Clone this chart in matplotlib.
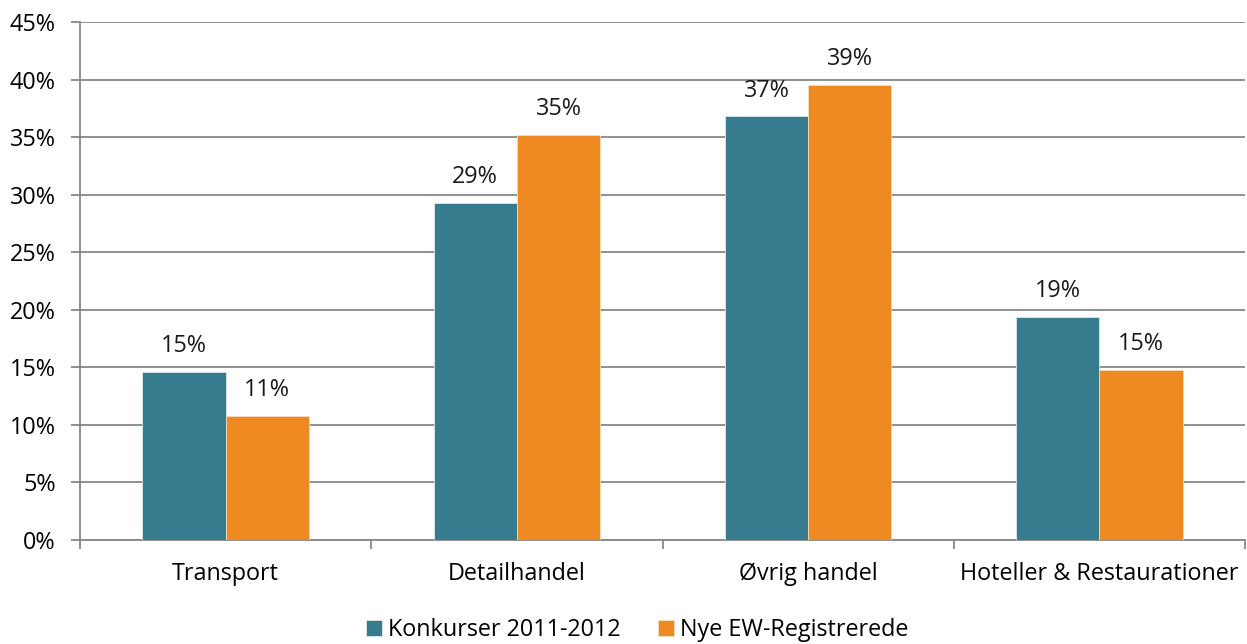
import numpy as np
import matplotlib
matplotlib.use("Agg")
from matplotlib import pyplot as plt
from matplotlib.ticker import FuncFormatter, FixedLocator

categories = ["Transport", "Detailhandel", "Øvrig handel", "Hoteller & Restaurationer"]
series_names = ["Konkurser 2011-2012", "Nye EW-Registrerede"]
konkurser = [14.6, 29.3, 36.8, 19.4]
nye_ew = [10.8, 35.2, 39.5, 14.8]
konkurser_labels = ["15%", "29%", "37%", "19%"]
nye_ew_labels = ["11%", "35%", "39%", "15%"]

teal = "#377B8E"
orange = "#EE8A21"
grey = "#878787"
fs = 16.8

plt.rcParams["font.family"] = ["Open Sans", "DejaVu Sans"]

fig = plt.figure(figsize=(12.47, 6.44), dpi=100)
ax = fig.add_axes([0.0642, 0.1615, 0.9342, 0.8043])

x = np.arange(len(categories))
w = 0.286
b1 = ax.bar(x - w / 2, konkurser, w, color=teal, edgecolor="#dfe8ea", linewidth=0.6,
            label=series_names[0], zorder=3)
b2 = ax.bar(x + w / 2, nye_ew, w, color=orange, edgecolor="#f6dcc0", linewidth=0.6,
            label=series_names[1], zorder=3)

ax.bar_label(b1, labels=konkurser_labels, padding=10, fontsize=fs, color="#1a1a1a")
ax.bar_label(b2, labels=nye_ew_labels, padding=10, fontsize=fs, color="#1a1a1a")

ax.set_xlim(-0.5, len(categories) - 0.5)
ax.set_ylim(0, 45)
ax.set_yticks(np.arange(0, 46, 5))
ax.yaxis.set_major_formatter(FuncFormatter(lambda v, p: f"{v:.0f}%"))
ax.yaxis.grid(True, color=grey, linewidth=1.3, zorder=0)

# category labels centred, ticks at the boundaries
ax.set_xticks(x)
ax.set_xticklabels(categories)
ax.tick_params(axis="x", which="major", length=0, pad=16, labelsize=fs)
ax.xaxis.set_minor_locator(FixedLocator(np.arange(-0.5, len(categories), 1.0)))
ax.tick_params(axis="x", which="minor", length=6.5, width=1.3, color=grey)
ax.tick_params(axis="y", length=6.5, width=1.3, color=grey, labelsize=fs, pad=11)

for side in ["top", "right"]:
    ax.spines[side].set_visible(False)
for side in ["left", "bottom"]:
    ax.spines[side].set_color(grey)
    ax.spines[side].set_linewidth(1.3)

fig.legend(handles=[b1, b2], loc="lower center", bbox_to_anchor=(0.511, -0.03), ncol=2,
           frameon=False, fontsize=fs, handlelength=0.7, handleheight=0.7,
           handletextpad=0.25, columnspacing=1.6)

plt.savefig("out.png", dpi=100)
